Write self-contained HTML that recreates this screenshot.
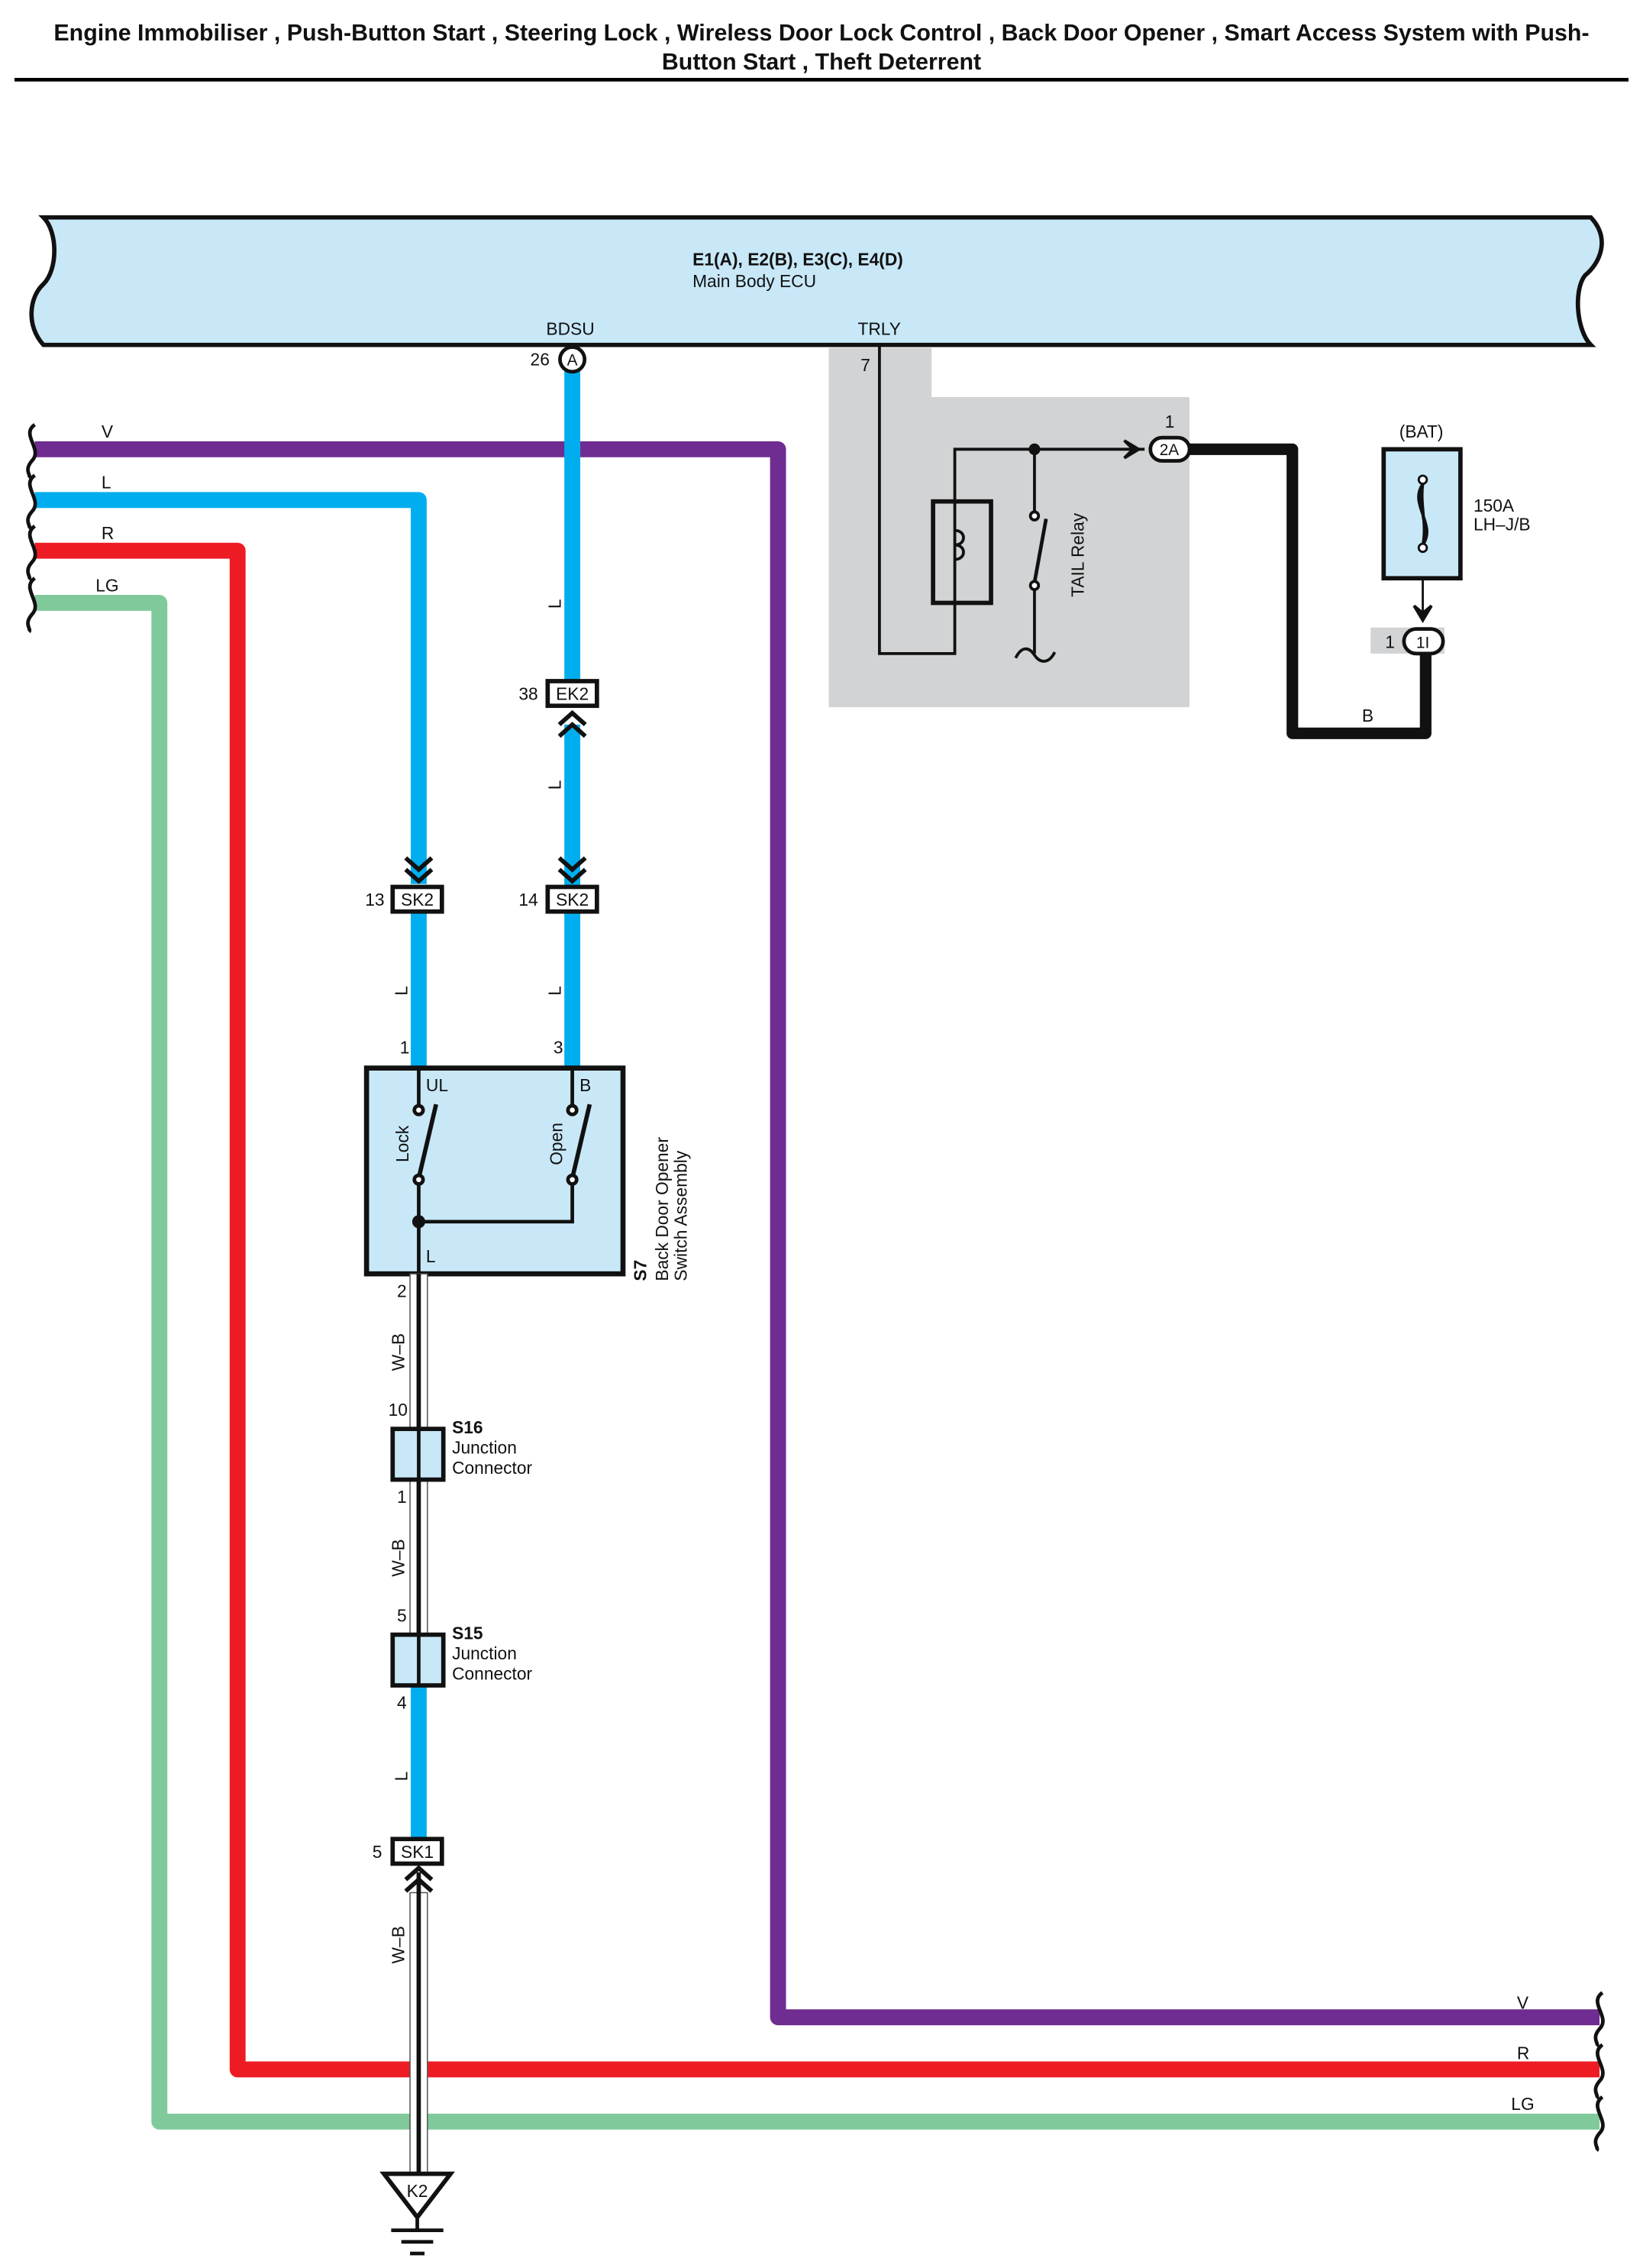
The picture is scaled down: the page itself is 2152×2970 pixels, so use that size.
<!DOCTYPE html>
<html><head><meta charset="utf-8"><style>
html,body{margin:0;padding:0;background:#fff;}
svg{display:block;}
text{font-family:"Liberation Sans",sans-serif;fill:#111;}
</style></head><body>
<svg width="2152" height="2970" viewBox="0 0 1134 1565" xmlns="http://www.w3.org/2000/svg">
<text x="567" y="28" font-size="16" font-weight="bold" text-anchor="middle">Engine Immobiliser , Push-Button Start , Steering Lock , Wireless Door Lock Control , Back Door Opener , Smart Access System with Push-</text>
<text x="567" y="48" font-size="16" font-weight="bold" text-anchor="middle">Button Start , Theft Deterrent</text>
<line x1="10" y1="55" x2="1124" y2="55" stroke="#000" stroke-width="2.5"/>

<path d="M30,150 L1098,150 C1112,165 1104,182 1094,190 C1086,200 1088,228 1098,238 L30,238 C18,225 20,205 30,196 C40,186 40,160 30,150 Z" fill="#c8e8f8" stroke="#111" stroke-width="3"/>
<text x="478" y="183" font-size="12" font-weight="bold">E1(A), E2(B), E3(C), E4(D)</text>
<text x="478" y="198" font-size="12">Main Body ECU</text>
<text x="377" y="231" font-size="12">BDSU</text>
<text x="592" y="231" font-size="12">TRLY</text>

<path d="M572,240 L643,240 L643,274 L821,274 L821,488 L572,488 Z" fill="#d1d3d4"/>
<text x="594" y="256" font-size="12">7</text>

<g fill="none" stroke-width="11" stroke-linejoin="round">
<path d="M24,310 L537,310 L537,1392 L1104,1392" stroke="#6f2c91"/>
<path d="M24,345 L289,345 L289,610" stroke="#00aeef"/>
<path d="M24,380 L164,380 L164,1428 L1104,1428" stroke="#ed1c24"/>
<path d="M24,416 L110,416 L110,1464 L1104,1464" stroke="#80c99b"/>
<path d="M395,255 L395,470" stroke="#00aeef"/>
<path d="M395,500 L395,612" stroke="#00aeef"/>
<path d="M395,629 L395,737" stroke="#00aeef"/>
<path d="M289,629 L289,737" stroke="#00aeef"/>
<path d="M289,1163 L289,1269" stroke="#00aeef"/>
</g>

<g fill="none" stroke="#111" stroke-width="2.5">
<path d="M24,293 C14,300 30,310 22,318 C16,325 22,328 20,330"/>
<path d="M24,328 C14,335 30,345 22,353 C16,360 22,363 20,365"/>
<path d="M24,363 C14,370 30,380 22,388 C16,395 22,398 20,400"/>
<path d="M24,399 C14,406 30,416 22,424 C16,431 22,434 20,436"/>
<path d="M1106,1375 C1096,1382 1112,1392 1104,1400 C1098,1407 1104,1410 1102,1412"/>
<path d="M1106,1411 C1096,1418 1112,1428 1104,1436 C1098,1443 1104,1446 1102,1448"/>
<path d="M1106,1447 C1096,1454 1112,1464 1104,1472 C1098,1479 1104,1482 1102,1484"/>
</g>
<text x="70" y="302" font-size="12">V</text>
<text x="70" y="337" font-size="12">L</text>
<text x="70" y="372" font-size="12">R</text>
<text x="66" y="408" font-size="12">LG</text>
<text x="1047" y="1386" font-size="12">V</text>
<text x="1047" y="1421" font-size="12">R</text>
<text x="1043" y="1456" font-size="12">LG</text>

<circle cx="395" cy="248" r="8.5" fill="#fff" stroke="#111" stroke-width="2.5"/>
<text x="395" y="252" font-size="11" text-anchor="middle">A</text>
<text x="366" y="252" font-size="12">26</text>

<g font-size="12">
<text transform="translate(387,420) rotate(-90)">L</text>
<text transform="translate(387,545) rotate(-90)">L</text>
<text transform="translate(387,687) rotate(-90)">L</text>
<text transform="translate(281,687) rotate(-90)">L</text>
<text transform="translate(281,1229) rotate(-90)">L</text>
<text transform="translate(279,946) rotate(-90)">W–B</text>
<text transform="translate(279,1088) rotate(-90)">W–B</text>
<text transform="translate(279,1355) rotate(-90)">W–B</text>
</g>

<g fill="#fff" stroke="#111" stroke-width="3">
<rect x="378" y="470" width="34" height="17"/>
<rect x="271" y="612" width="34" height="17"/>
<rect x="378" y="612" width="34" height="17"/>
<rect x="271" y="1269" width="34" height="17"/>
</g>
<g font-size="12">
<text x="395" y="483" text-anchor="middle">EK2</text><text x="358" y="483">38</text>
<text x="288" y="625" text-anchor="middle">SK2</text><text x="252" y="625">13</text>
<text x="395" y="625" text-anchor="middle">SK2</text><text x="358" y="625">14</text>
<text x="288" y="1282" text-anchor="middle">SK1</text><text x="257" y="1282">5</text>
</g>
<g fill="none" stroke="#111" stroke-width="3">
<path d="M386,500 L395,492 L404,500 M386,508 L395,500 L404,508"/>
<path d="M386,592 L395,600 L404,592 M386,600 L395,608 L404,600"/>
<path d="M280,592 L289,600 L298,592 M280,600 L289,608 L298,600"/>
<path d="M280,1297 L289,1289 L298,1297 M280,1305 L289,1297 L298,1305"/>
</g>

<rect x="253" y="737" width="177" height="142" fill="#c8e8f8" stroke="#111" stroke-width="3.5"/>
<g fill="none" stroke="#111" stroke-width="2.5">
<path d="M289,737 L289,763 M289,817 L289,879 M289,843 L395,843 L395,817 M395,737 L395,763"/>
<path d="M289,813 L301,762" stroke-width="3"/>
<path d="M395,813 L407,762" stroke-width="3"/>
</g>
<g fill="#fff" stroke="#111" stroke-width="2.5">
<circle cx="289" cy="766" r="3"/><circle cx="289" cy="814" r="3"/>
<circle cx="395" cy="766" r="3"/><circle cx="395" cy="814" r="3"/>
</g>
<circle cx="289" cy="843" r="4.5" fill="#111"/>
<g font-size="12">
<text x="294" y="753">UL</text><text x="400" y="753">B</text><text x="294" y="871">L</text>
<text x="276" y="727">1</text><text x="382" y="727">3</text><text x="274" y="895">2</text>
<text transform="translate(282,802) rotate(-90)">Lock</text>
<text transform="translate(388,804) rotate(-90)">Open</text>
<text transform="translate(446,884) rotate(-90)" font-weight="bold">S7</text>
<text transform="translate(461,884) rotate(-90)">Back Door Opener</text>
<text transform="translate(474,884) rotate(-90)">Switch Assembly</text>
</g>

<g>
<rect x="283" y="879" width="12" height="106" fill="#fff" stroke="#555" stroke-width="0.8"/>
<rect x="283" y="1021" width="12" height="106" fill="#fff" stroke="#555" stroke-width="0.8"/>
<rect x="283" y="1306" width="12" height="194" fill="#fff" stroke="#555" stroke-width="0.8"/>
<line x1="289" y1="879" x2="289" y2="1163" stroke="#111" stroke-width="3"/>
<line x1="289" y1="1292" x2="289" y2="1500" stroke="#111" stroke-width="3"/>
</g>
<g fill="#c8e8f8" stroke="#111" stroke-width="3">
<rect x="271" y="986" width="35" height="35"/>
<rect x="271" y="1128" width="35" height="35"/>
</g>
<line x1="289" y1="986" x2="289" y2="1021" stroke="#111" stroke-width="2.5"/>
<line x1="289" y1="1128" x2="289" y2="1163" stroke="#111" stroke-width="2.5"/>
<g font-size="12">
<text x="268" y="977">10</text><text x="274" y="1037">1</text>
<text x="274" y="1119">5</text><text x="274" y="1179">4</text>
<text x="312" y="989" font-weight="bold">S16</text><text x="312" y="1003">Junction</text><text x="312" y="1017">Connector</text>
<text x="312" y="1131" font-weight="bold">S15</text><text x="312" y="1145">Junction</text><text x="312" y="1159">Connector</text>
</g>
<path d="M265,1500 L311,1500 L288,1530 Z" fill="#fff" stroke="#111" stroke-width="3"/>
<text x="288" y="1516" font-size="12" text-anchor="middle">K2</text>
<g stroke="#111" stroke-width="2.5">
<line x1="288" y1="1530" x2="288" y2="1539"/>
<line x1="270" y1="1539" x2="306" y2="1539"/>
<line x1="277" y1="1547" x2="299" y2="1547"/>
<line x1="283" y1="1555" x2="293" y2="1555"/>
</g>

<g fill="none" stroke="#111" stroke-width="2">
<path d="M607,238 L607,451 L659,451 L659,310 L790,310"/>
<path d="M714,310 L714,354 M714,406 L714,451"/>
<path d="M714,402 L722,358" stroke-width="2.5"/>
<path d="M659,366 C667,366 667,376 659,376 C667,376 667,386 659,386"/>
<path d="M701,454 C705,446 710,446 714,452 C718,458 724,458 728,450"/>
</g>
<rect x="644" y="346" width="40" height="70" fill="none" stroke="#111" stroke-width="3"/>
<circle cx="714" cy="310" r="4" fill="#111"/>
<circle cx="714" cy="356" r="2.8" fill="#fff" stroke="#111" stroke-width="2"/>
<circle cx="714" cy="404" r="2.8" fill="#fff" stroke="#111" stroke-width="2"/>
<path d="M776,304 L786,310 L776,316 L782,310 Z" fill="#111" stroke="#111" stroke-width="2"/>
<text transform="translate(748,412) rotate(-90)" font-size="12">TAIL Relay</text>
<path d="M815,310 L892,310 L892,506 L984,506 L984,452" fill="none" stroke="#111" stroke-width="8" stroke-linejoin="round"/>
<rect x="794" y="302" width="27" height="16" rx="8" fill="#fff" stroke="#111" stroke-width="2.5"/>
<text x="807" y="314" font-size="11" text-anchor="middle">2A</text>
<text x="804" y="295" font-size="12">1</text>
<text x="940" y="498" font-size="12">B</text>
<rect x="946" y="433" width="51" height="18" fill="#d1d3d4"/>
<rect x="969" y="434" width="27" height="17" rx="8.5" fill="#fff" stroke="#111" stroke-width="2.5"/>
<text x="982" y="447" font-size="11" text-anchor="middle">1I</text>
<text x="956" y="447" font-size="12">1</text>
<rect x="955" y="310" width="53" height="89" fill="#c8e8f8" stroke="#111" stroke-width="3"/>
<line x1="982" y1="399" x2="982" y2="428" stroke="#111" stroke-width="1.5"/>
<path d="M976,418 L982,428 L988,418 L982,423 Z" fill="#111" stroke="#111" stroke-width="2"/>
<path d="M982,334 C972,348 992,362 982,376 M982,334 C977,348 987,362 982,376 M982,334 C980,348 985,362 982,376" fill="none" stroke="#111" stroke-width="2"/>
<circle cx="982" cy="331" r="2.8" fill="#fff" stroke="#111" stroke-width="1.5"/>
<circle cx="982" cy="378" r="2.8" fill="#fff" stroke="#111" stroke-width="1.5"/>
<text x="981" y="302" font-size="12" text-anchor="middle">(BAT)</text>
<text x="1017" y="353" font-size="12">150A</text>
<text x="1017" y="366" font-size="12">LH–J/B</text>
</svg>
</body></html>
